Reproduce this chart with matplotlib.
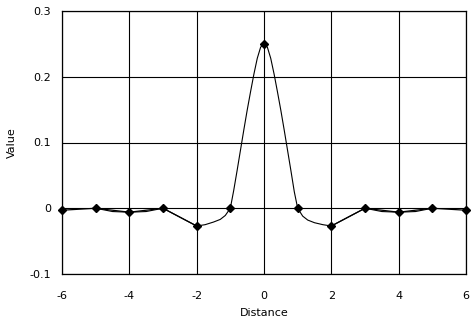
import matplotlib
matplotlib.use("Agg")
import matplotlib.pyplot as plt

plt.rcParams['axes.unicode_minus'] = False
plt.rcParams['font.family'] = ['DejaVu Sans']

# sample points (markers; joined by straight lines in the outer parts)
sample_x = [-6, -5, -4, -3, -2, -1, 0, 1, 2, 3, 4, 5, 6]
sample_y = [-0.003, 0.0, -0.006, 0.0, -0.027, 0.0, 0.25, 0.0, -0.027, 0.0, -0.006, 0.0, -0.003]

# continuous curve
curve_x = [-5, -4.5, -4, -3.5, -3, -2, -1.75, -1.5, -1.3, -1.15, -1.0, -0.9, -0.8, -0.7,
           -0.6, -0.5, -0.4, -0.3, -0.2, -0.1, 0.0, 0.1, 0.2, 0.3, 0.4, 0.5, 0.6, 0.7,
           0.8, 0.9, 1.0, 1.15, 1.3, 1.5, 1.75, 2, 3, 3.5, 4, 4.5, 5]
curve_y = [0.0, -0.005, -0.006, -0.005, 0.0, -0.027, -0.025, -0.021, -0.017, -0.011, 0.0, 0.027,
           0.057, 0.088, 0.119, 0.149, 0.177, 0.204, 0.228, 0.245, 0.25, 0.245, 0.228, 0.204,
           0.177, 0.149, 0.119, 0.088, 0.057, 0.025, 0.0, -0.012, -0.018, -0.022, -0.025, -0.027,
           0.0, -0.005, -0.006, -0.005, 0.0]

x_ticks = [-6, -4, -2, 0, 2, 4, 6]
y_ticks = [-0.1, 0, 0.1, 0.2, 0.3]
y_tick_labels = ['-0.1', '0', '0.1', '0.2', '0.3']

fig = plt.figure(figsize=(4.74, 3.21), dpi=100)
ax = fig.add_axes([62/474, 1-274/321, (466-62)/474, (274-11)/321])

ax.plot(curve_x, curve_y, color='black', lw=0.8, zorder=3)
left = [i for i, v in enumerate(sample_x) if v <= -2]
right = [i for i, v in enumerate(sample_x) if v >= 2]
for idx in (left, right):
    ax.plot([sample_x[i] for i in idx], [sample_y[i] for i in idx],
            color='black', lw=0.9, zorder=3, clip_on=False)
ax.plot(sample_x, sample_y, linestyle='none', color='black', marker='D',
        markersize=4.5, zorder=4, clip_on=False)

ax.set_xlim(-6, 6)
ax.set_ylim(-0.1, 0.3)
ax.set_xticks(x_ticks)
ax.set_xticklabels([str(v) for v in x_ticks])
ax.set_yticks(y_ticks)
ax.set_yticklabels(y_tick_labels)
ax.grid(True, color='black', lw=0.8)
ax.set_axisbelow(True)
for s in ax.spines.values():
    s.set_color('black')
    s.set_linewidth(0.9)
ax.tick_params(length=0, labelsize=8)
ax.tick_params(axis='x', pad=12)
ax.tick_params(axis='y', pad=8)

ax.set_xlabel('Distance', fontsize=8, labelpad=5)
ax.set_ylabel('Value', fontsize=8, labelpad=9)

fig.savefig('out.png', dpi=100)
